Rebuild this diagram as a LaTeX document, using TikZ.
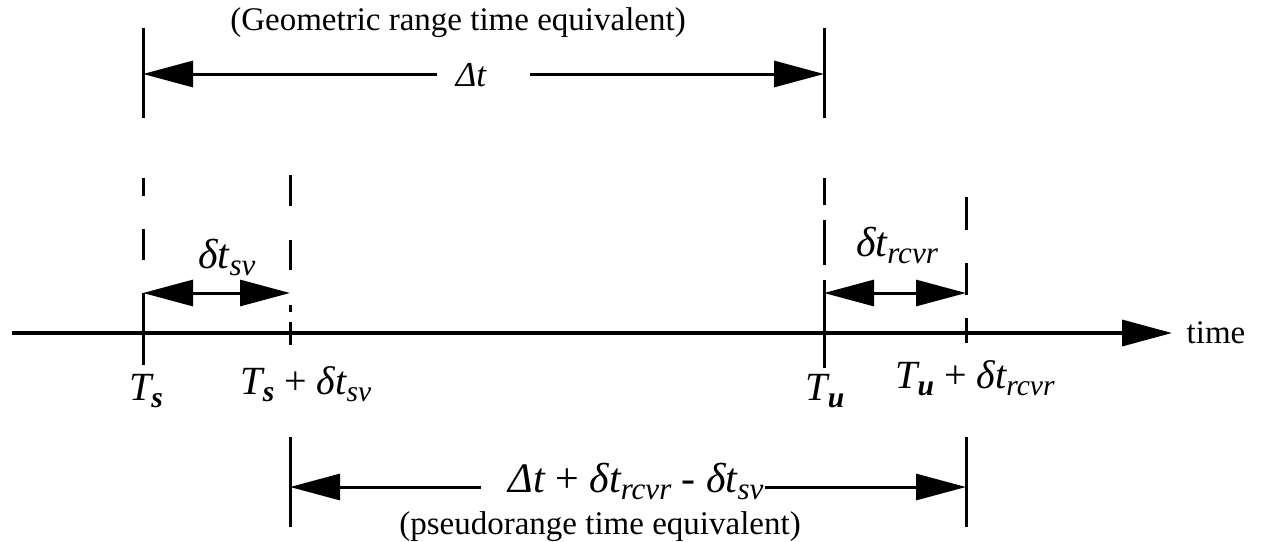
\documentclass[tikz,border=0pt]{standalone}
\usepackage{fontspec}
\setmainfont{Liberation Serif}
\usetikzlibrary{arrows.meta}
\newcommand\sbs[1]{\raisebox{-0.4ex}{\fontsize{0.74em}{1em}\selectfont #1}}
\begin{document}
\begin{tikzpicture}[x=1pt,y=-1pt,
  ln/.style={line width=3pt},
  axisln/.style={line width=3.5pt},
  tipR/.style={-{Triangle[length=50pt,width=26pt]}},
  tipL/.style={{Triangle[length=50pt,width=26pt]}-},
  tipLR/.style={{Triangle[length=50pt,width=26pt]}-{Triangle[length=50pt,width=26pt]}},
  txt/.style={inner sep=0pt, anchor=base, font=\fontsize{33}{36}\selectfont},
  mth/.style={inner sep=0pt, anchor=base, font=\fontsize{40}{44}\selectfont\itshape},
  ]
\useasboundingbox (0,0) rectangle (1261,541);
% x positions
\def\xa{143}\def\xb{290}\def\xc{824}\def\xd{966}
% axis
\coordinate (ax0) at (12,333);
\coordinate (ax1) at (1172,333);
\draw[axisln,tipR] (ax0) -- (ax1);
\node[txt] (time) at (1216,343) {time};
% top range
\node[txt] (geo) at (458,30) {(Geometric range time equivalent)};
\coordinate (ta1) at (\xa,28); \coordinate (ta2) at (\xa,118);
\coordinate (tc1) at (\xc,28); \coordinate (tc2) at (\xc,118);
\draw[ln] (ta1) -- (ta2);
\draw[ln] (tc1) -- (tc2);
\coordinate (al) at (\xa,74); \coordinate (ar) at (\xc,74);
\node[mth, font=\fontsize{35}{38}\selectfont\itshape] (Dt) at (471,86) {Δt};
\coordinate (gl) at (437,74); \coordinate (gr) at (530,74);
\draw[ln,tipL] (al) -- (gl);
\draw[ln,tipR] (gr) -- (ar);
% dashed verticals
\draw[ln] (\xa,178) coordinate (a1) -- (\xa,196) coordinate (a2);
\draw[ln] (\xa,229) coordinate (a3) -- (\xa,260) coordinate (a4);
\draw[ln] (\xa,293) coordinate (a5) -- (\xa,365) coordinate (a6);
\draw[ln] (\xb,175) coordinate (b1) -- (\xb,206) coordinate (b2);
\draw[ln] (\xb,240) coordinate (b3) -- (\xb,270) coordinate (b4);
\draw[ln] (\xb,305) coordinate (b5) -- (\xb,312) coordinate (b6);
\draw[ln] (\xb,322) coordinate (b7) -- (\xb,345) coordinate (b8);
\draw[ln] (\xc,178) coordinate (c1) -- (\xc,205) coordinate (c2);
\draw[ln] (\xc,220) coordinate (c3) -- (\xc,265) coordinate (c4);
\draw[ln] (\xc,280) coordinate (c5) -- (\xc,368) coordinate (c6);
\draw[ln] (\xd,197) coordinate (d1) -- (\xd,230) coordinate (d2);
\draw[ln] (\xd,263) coordinate (d3) -- (\xd,295) coordinate (d4);
\draw[ln] (\xd,318) coordinate (d5) -- (\xd,343) coordinate (d6);
% small arrows
\coordinate (sl1) at (\xa,293); \coordinate (sl2) at (\xb,293);
\coordinate (sr1) at (\xc,293); \coordinate (sr2) at (\xd,293);
\draw[ln,tipLR] (sl1) -- (sl2);
\draw[ln,tipLR] (sr1) -- (sr2);
\node[mth, font=\fontsize{42}{46}\selectfont\itshape] (dsv) at (227,268) {δt\sbs{sv}};
\node[mth, font=\fontsize{42}{46}\selectfont\itshape] (drc) at (897,256) {δt\sbs{rcvr}};
% axis labels
\node[mth] (Ts) at (146,400) {T\sbs{\bfseries s}};
\node[mth] (Tsd) at (306,394) {T\sbs{\bfseries s} {\upshape +} δt\sbs{sv}};
\node[mth] (Tu) at (825,400) {T\sbs{\bfseries u}};
\node[mth] (Tud) at (975,388) {T\sbs{\bfseries u} {\upshape +} δt\sbs{rcvr}};
% bottom range
\coordinate (bb1) at (\xb,437); \coordinate (bb2) at (\xb,527);
\coordinate (bd1) at (\xd,437); \coordinate (bd2) at (\xd,527);
\draw[ln] (bb1) -- (bb2);
\draw[ln] (bd1) -- (bd2);
\node[mth, font=\fontsize{42}{46}\selectfont\itshape] (form) at (636,492) {Δt {\upshape +} δt\sbs{rcvr} {\upshape -} δt\sbs{sv}};
\coordinate (bl) at (\xb,487); \coordinate (br) at (\xd,487);
\coordinate (fl) at (481,487); \coordinate (fr) at (765,487);
\draw[ln,tipL] (bl) -- (fl);
\draw[ln,tipR] (fr) -- (br);
\node[txt] (pseudo) at (600,534) {(pseudorange time equivalent)};
\end{tikzpicture}
\end{document}
